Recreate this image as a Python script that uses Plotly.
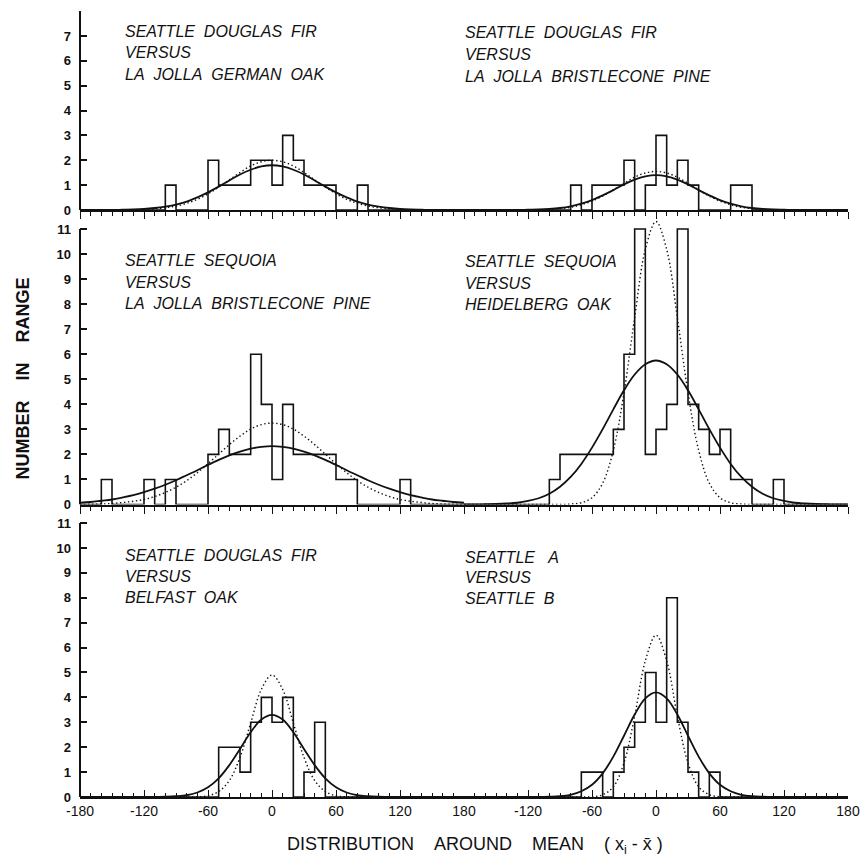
import plotly.graph_objects as go

# ---------------- data ----------------
bin_edges = list(range(-180, 190, 10))          # 10-unit bins, -180 .. 180
curve_x = list(range(-180, 190, 10))            # sample points of the fitted curves

# histogram counts per 10-unit bin (left edge -180, -170, ..., 170)
tl_counts = [0,0,0,0,0,0,0,0,1,0,0,0,2,1,1,1,2,2,1,3,2,1,1,1,0,0,1,0,0,0,0,0,0,0,0,0]
tr_counts = [0,0,0,0,0,0,0,0,0,0,1,0,1,1,1,2,0,1,3,1,2,1,0,0,0,1,1,0,0,0,0,0,0,0,0,0]
ml_counts = [0,0,1,0,0,0,1,0,1,0,0,0,2,3,2,2,6,4,1,4,2,2,2,2,1,1,0,0,0,0,1,0,0,0,0,0]
mr_counts = [0,0,0,0,0,0,0,0,1,2,2,2,2,2,3,6,11,2,3,4,11,4,3,2,3,1,1,0,0,1,0,0,0,0,0,0]
bl_counts = [0,0,0,0,0,0,0,0,0,0,0,0,0,2,2,1,3,4,3,4,0,1,3,0,0,0,0,0,0,0,0,0,0,0,0,0]
br_counts = [0,0,0,0,0,0,0,0,0,0,0,1,1,0,1,2,3,5,3,8,3,1,0,1,0,0,0,0,0,0,0,0,0,0,0,0]

# fitted curves, read at |x| = 0, 10, ..., 180 (symmetric about 0)
tl_solid_half = [1.80,1.75,1.62,1.43,1.19,0.94,0.71,0.51,0.34,0.22,0.14,0.08,0.04,0.02,0.01,0.00,0.00,0.00,0.00]
tl_dot_half   = [2.00,1.94,1.77,1.51,1.21,0.92,0.65,0.43,0.27,0.16,0.09,0.05,0.02,0.01,0.00,0.00,0.00,0.00,0.00]
tr_solid_half = [1.40,1.35,1.22,1.03,0.80,0.59,0.40,0.26,0.15,0.08,0.04,0.02,0.01,0.00,0.00,0.00,0.00,0.00,0.00]
tr_dot_half   = [1.55,1.49,1.32,1.07,0.81,0.56,0.36,0.21,0.11,0.06,0.03,0.01,0.00,0.00,0.00,0.00,0.00,0.00,0.00]
ml_solid_half = [2.33,2.30,2.23,2.11,1.96,1.78,1.58,1.37,1.17,0.97,0.79,0.63,0.49,0.37,0.28,0.20,0.15,0.10,0.07]
ml_dot_half   = [3.25,3.19,3.01,2.73,2.39,2.01,1.63,1.27,0.95,0.69,0.48,0.32,0.20,0.13,0.08,0.04,0.02,0.01,0.00]
mr_solid_half = [5.75,5.60,5.19,4.56,3.80,3.01,2.27,1.62,1.10,0.71,0.43,0.25,0.14,0.07,0.04,0.02,0.01,0.00,0.00]
mr_dot_half   = [11.30,10.19,7.47,4.46,2.16,0.85,0.27,0.07,0.02,0.00,0.00,0.00,0.00,0.00,0.00,0.00,0.00,0.00,0.00]
bl_solid_half = [3.30,3.11,2.60,1.93,1.28,0.75,0.39,0.18,0.07,0.03,0.01,0.00,0.00,0.00,0.00,0.00,0.00,0.00,0.00]
bl_dot_half   = [4.90,4.32,2.97,1.59,0.66,0.22,0.05,0.01,0.00,0.00,0.00,0.00,0.00,0.00,0.00,0.00,0.00,0.00,0.00]
br_solid_half = [4.20,3.96,3.31,2.46,1.62,0.95,0.49,0.23,0.09,0.03,0.01,0.00,0.00,0.00,0.00,0.00,0.00,0.00,0.00]
br_dot_half   = [6.50,5.47,3.25,1.37,0.41,0.09,0.01,0.00,0.00,0.00,0.00,0.00,0.00,0.00,0.00,0.00,0.00,0.00,0.00]

# panel labels
tl_label = ["SEATTLE  DOUGLAS  FIR", "VERSUS", "LA  JOLLA  GERMAN  OAK"]
tr_label = ["SEATTLE  DOUGLAS  FIR", "VERSUS", "LA  JOLLA  BRISTLECONE  PINE"]
ml_label = ["SEATTLE  SEQUOIA", "VERSUS", "LA  JOLLA  BRISTLECONE  PINE"]
mr_label = ["SEATTLE  SEQUOIA", "VERSUS", "HEIDELBERG  OAK"]
bl_label = ["SEATTLE  DOUGLAS  FIR", "VERSUS", "BELFAST  OAK"]
br_label = ["SEATTLE   A", "VERSUS", "SEATTLE  B"]

x_tick_vals_left = [-180, -120, -60, 0, 60, 120, 180]
x_tick_vals_right = [-120, -60, 0, 60, 120, 180]
y_ticks_top = [0, 1, 2, 3, 4, 5, 6, 7]
y_ticks_big = list(range(0, 12))

# ---------------- figure ----------------
W, H = 861, 862
INK = "#111111"


def mirror(half):
    return half[:0:-1] + half


def nb(s):
    return s.replace(" ", "\u00a0")


panels = [
    [(tl_counts, tl_solid_half, tl_dot_half, tl_label, [31.5, 52.5, 74.5]),
     (tr_counts, tr_solid_half, tr_dot_half, tr_label, [32.5, 54.5, 77.0])],
    [(ml_counts, ml_solid_half, ml_dot_half, ml_label, [260.5, 282.0, 303.7]),
     (mr_counts, mr_solid_half, mr_dot_half, mr_label, [261.0, 283.0, 304.5])],
    [(bl_counts, bl_solid_half, bl_dot_half, bl_label, [555.0, 576.0, 597.5]),
     (br_counts, br_solid_half, br_dot_half, br_label, [557.5, 577.5, 598.5])],
]

x_left_px, x_mid_px, x_right_px = 80, 464, 848
panel_geom = [  # (zero y px, top y px, y range top)
    (210.0, 11.1, 8.0),
    (504.5, 216.5, 11.5),
    (797.0, 510.6, 11.5),
]
axis_top_val = [8, 11, 11]

fig = go.Figure()
annotations = []
shapes = []
layout = {}

for p, halves in enumerate(panels):
    ykey = "y" if p == 0 else f"y{p+1}"
    for h, (counts, solid_half, dot_half, label, ly) in enumerate(halves):
        xi = 2 * p + h + 1
        xkey = "x" if xi == 1 else f"x{xi}"
        fig.add_trace(go.Scatter(
            x=bin_edges, y=counts + [0], mode="lines",
            line=dict(shape="hv", color=INK, width=1.6),
            xaxis=xkey, yaxis=ykey, showlegend=False, hoverinfo="skip"))
        fig.add_trace(go.Scatter(
            x=curve_x, y=mirror(dot_half), mode="lines",
            line=dict(shape="spline", color=INK, width=1.4, dash="1.4px,2.6px"),
            xaxis=xkey, yaxis=ykey, showlegend=False, hoverinfo="skip"))
        fig.add_trace(go.Scatter(
            x=curve_x, y=mirror(solid_half), mode="lines",
            line=dict(shape="spline", color=INK, width=1.8),
            xaxis=xkey, yaxis=ykey, showlegend=False, hoverinfo="skip"))
        tx = 123 if h == 0 else 463
        for line_text, yc in zip(label, ly):
            annotations.append(dict(
                text=nb(line_text), xref="paper", yref="paper",
                x=tx / W, y=(H - yc) / H, xanchor="left", yanchor="middle",
                showarrow=False,
                font=dict(family="Liberation Sans", size=16, color=INK, style="italic")))

        bottom = (p == 2)
        tvals = x_tick_vals_left if h == 0 else x_tick_vals_right
        xa = dict(
            domain=[(x_left_px if h == 0 else x_mid_px) / W,
                    (x_mid_px if h == 0 else x_right_px) / W],
            range=[-180, 180], anchor=ykey, automargin=False,
            showline=True, linecolor=INK, linewidth=2,
            showgrid=False, zeroline=False,
            tickmode="array", tickvals=tvals,
            ticktext=[str(v) for v in tvals],
            ticks="inside" if bottom else "outside",
            ticklen=7, tickwidth=1.4, tickcolor=INK,
            minor=dict(tickmode="linear", tick0=0, dtick=10, ticklen=4,
                       tickwidth=1.2, tickcolor=INK,
                       ticks="inside" if bottom else "outside"),
            showticklabels=bottom,
            ticklabelstandoff=0,
            tickfont=dict(family="Liberation Sans", size=14, color=INK),
            fixedrange=True,
        )
        layout["xaxis" if xi == 1 else f"xaxis{xi}"] = xa

    y0px, ytop_px, ymax = panel_geom[p]
    tv = y_ticks_top if p == 0 else y_ticks_big
    ya = dict(
        domain=[(H - y0px) / H, (H - ytop_px) / H],
        range=[0, ymax], anchor="x" if p == 0 else f"x{2*p+1}",
        automargin=False,
        showline=False, showgrid=False, zeroline=False,
        tickmode="array", tickvals=tv, ticktext=[str(v) for v in tv],
        ticks="inside", ticklen=7, tickwidth=1.5, tickcolor=INK,
        tickfont=dict(family="Liberation Sans", size=13, color=INK, weight="bold"),
        ticklabelstandoff=8,
        fixedrange=True,
    )
    if p == 0:
        ya["minor"] = dict(tickmode="array", tickvals=[axis_top_val[0]],
                           ticks="inside", ticklen=7, tickwidth=1.5, tickcolor=INK)
    layout["yaxis" if p == 0 else f"yaxis{p+1}"] = ya
    xdom = "x domain" if p == 0 else f"x{2*p+1} domain"
    shapes.append(dict(type="line", xref=xdom, x0=0, x1=0, yref=ykey,
                       y0=0, y1=axis_top_val[p], line=dict(color=INK, width=2)))

# axis titles
annotations.append(dict(
    text=nb("NUMBER    IN    RANGE"), xref="paper", yref="paper",
    x=22 / W, y=(H - 378.5) / H, xanchor="center", yanchor="middle",
    textangle=-90, showarrow=False,
    font=dict(family="Liberation Sans", size=18, color=INK, weight="bold")))
annotations.append(dict(
    text=nb("DISTRIBUTION    AROUND    MEAN    ( x<sub>i</sub> - x\u0304 )"),
    xref="paper", yref="paper",
    x=475 / W, y=(H - 845) / H, xanchor="center", yanchor="middle",
    showarrow=False,
    font=dict(family="Liberation Sans", size=18, color=INK)))

fig.update_layout(
    width=W, height=H,
    margin=dict(l=0, r=0, t=0, b=0, autoexpand=False),
    paper_bgcolor="white", plot_bgcolor="white",
    annotations=annotations, shapes=shapes,
    showlegend=False,
    **layout,
)

fig.write_html("out.html")
